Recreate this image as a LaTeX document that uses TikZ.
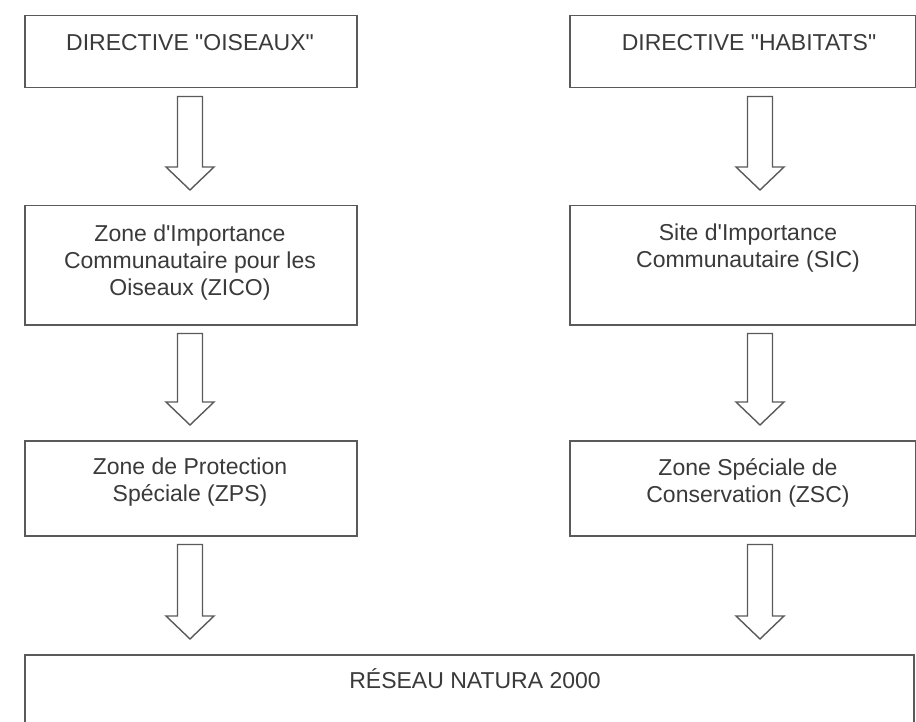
\documentclass[tikz,border=0pt]{standalone}
\usepackage{fontspec}
\setmainfont{Liberation Sans}[Ligatures=TeXOff]
\usetikzlibrary{calc}
\definecolor{linegray}{HTML}{5A5A5A}
\definecolor{textgray}{HTML}{3A3A3A}
\newcommand\blockarrow[3]{%
  \draw[arrowline] let \p0=(#1), \p1=(#2.south), \p2=(#3.north) in
    (\x0-12.5pt,\y1-8pt) -- (\x0+12.5pt,\y1-8pt) -- (\x0+12.5pt,\y2+38pt)
    -- (\x0+24pt,\y2+38pt) -- (\x0,\y2+15pt) -- (\x0-24pt,\y2+38pt)
    -- (\x0-12.5pt,\y2+38pt) -- cycle;}
\begin{document}
\begin{tikzpicture}[x=1pt,y=-1pt,
  box/.style={draw=linegray, line width=1.5pt, inner sep=0pt, anchor=north west},
  boxtext/.style={text=textgray, font=\fontsize{23}{27}\selectfont, align=center, inner sep=0pt},
  arrowline/.style={draw=linegray, line width=1.4pt, fill=white, line join=miter}]
\useasboundingbox (0,0) rectangle (916,722);
\clip (0,0) rectangle (916,722);
\fill[white] (0,0) rectangle (916,722);
% boxes
\node[box, minimum width=332pt, minimum height=72pt] (dirO) at (24,15) {};
\node[box, minimum width=346pt, minimum height=72pt] (dirH) at (569,15) {};
\node[box, minimum width=332pt, minimum height=119pt] (zico) at (24,205) {};
\node[box, minimum width=346pt, minimum height=119pt] (sic) at (569,205) {};
\node[box, minimum width=332pt, minimum height=95pt] (zps) at (24,440) {};
\node[box, minimum width=346pt, minimum height=95pt] (zsc) at (569,440) {};
\node[box, minimum width=889pt, minimum height=120pt] (natura) at (24,654) {};
% texts
\node[boxtext, anchor=base] (tdirO) at (190,51) {DIRECTIVE "OISEAUX"};
\node[boxtext, anchor=base] (tdirH) at (749,51) {DIRECTIVE "HABITATS"};
\node[boxtext, anchor=north] (tzico) at (190,224.5) {Zone d'Importance\\Communautaire pour les\\Oiseaux (ZICO)};
\node[boxtext, anchor=north] (tsic) at (748,223.5) {Site d'Importance\\Communautaire (SIC)};
\node[boxtext, anchor=north] (tzps) at (190,457.5) {Zone de Protection\\Spéciale (ZPS)};
\node[boxtext, anchor=north] (tzsc) at (748,458.5) {Zone Spéciale de\\Conservation (ZSC)};
\node[boxtext, anchor=base] (tnat) at (475,688.5) {RÉSEAU NATURA 2000};
% arrow axes
\coordinate (L) at (190,0);
\coordinate (R) at (760,0);
\blockarrow{L}{dirO}{zico}
\blockarrow{L}{zico}{zps}
\blockarrow{L}{zps}{natura}
\blockarrow{R}{dirH}{sic}
\blockarrow{R}{sic}{zsc}
\blockarrow{R}{zsc}{natura}
\end{tikzpicture}
\end{document}
